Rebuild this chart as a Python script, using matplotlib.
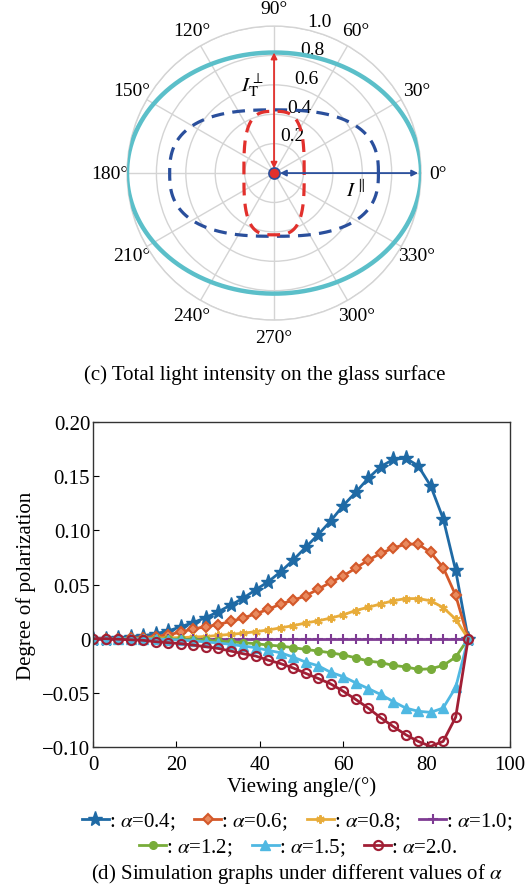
import numpy as np
import matplotlib
matplotlib.use("Agg")
import matplotlib.pyplot as plt

plt.rcParams["font.family"] = ["Liberation Serif", "DejaVu Serif"]
plt.rcParams["mathtext.fontset"] = "stix"

# ---- polar panel (c): curve extents ----
# (horizontal half-axis, vertical half-axis, squareness exponent)
total_shape = (1.0, 0.82, 2.0)
par_shape = (0.71, 0.43, 2.6)
perp_shape = (0.205, 0.42, 3.2)
r_ticks = [0.2, 0.4, 0.6, 0.8, 1.0]
theta_ticks = [0, 30, 60, 90, 120, 150, 180, 210, 240, 270, 300, 330]

# ---- panel (d): degree of polarization vs viewing angle ----
angle = [0, 3, 6, 9, 12, 15, 18, 21, 24, 27, 30, 33, 36, 39, 42, 45,
         48, 51, 54, 57, 60, 63, 66, 69, 72, 75, 78, 81, 84, 87, 90]
dop_04 = [0, 0, 0.0006, 0.0015, 0.0025, 0.0046, 0.007, 0.011, 0.0148, 0.0194,
          0.0247, 0.031, 0.0373, 0.0451, 0.0525, 0.0617, 0.0725, 0.0843, 0.096,
          0.1086, 0.1228, 0.135, 0.148, 0.1588, 0.1654, 0.1667, 0.1596, 0.141,
          0.1108, 0.063, 0]
dop_06 = [0, 0, 0, 0.0005, 0.001, 0.002, 0.0035, 0.006, 0.009, 0.011, 0.013,
          0.016, 0.019, 0.023, 0.027, 0.032, 0.0355, 0.0395, 0.0457, 0.052,
          0.058, 0.065, 0.0725, 0.0787, 0.0836, 0.0873, 0.0873, 0.0796, 0.0657,
          0.040, 0]
dop_08 = [0, 0, 0, 0, 0.0003, 0.0005, 0.0008, 0.001, 0.0015, 0.002, 0.003,
          0.004, 0.005, 0.0065, 0.008, 0.010, 0.012, 0.0145, 0.0165, 0.019,
          0.022, 0.026, 0.029, 0.032, 0.035, 0.037, 0.037, 0.035, 0.0287,
          0.018, 0]
dop_10 = [0] * 31
dop_12 = [0, 0, 0, 0, -0.0002, -0.0003, -0.0004, -0.0006, -0.001, -0.0016,
          -0.0022, -0.003, -0.0037, -0.0046, -0.0059, -0.0068, -0.0083,
          -0.0099, -0.0114, -0.013, -0.015, -0.0176, -0.0207, -0.022, -0.0247,
          -0.026, -0.0284, -0.0278, -0.0247, -0.017, 0]
dop_15 = [0, 0, 0, -0.0001, -0.0002, -0.0004, -0.0008, -0.0013, -0.002,
          -0.003, -0.004, -0.0052, -0.0068, -0.0083, -0.0108, -0.013, -0.017,
          -0.0216, -0.025, -0.031, -0.035, -0.0407, -0.046, -0.0515, -0.058,
          -0.064, -0.067, -0.068, -0.064, -0.045, 0]
dop_20 = [0, 0, -0.0005, -0.001, -0.0015, -0.0028, -0.0037, -0.0046, -0.0059,
          -0.0074, -0.009, -0.0114, -0.0139, -0.016, -0.0198, -0.023, -0.027,
          -0.032, -0.0367, -0.0417, -0.0485, -0.056, -0.064, -0.073, -0.081,
          -0.0886, -0.0948, -0.0994, -0.0948, -0.0725, 0]
alpha_labels = ["0.4", "0.6", "0.8", "1.0", "1.2", "1.5", "2.0."]

fig = plt.figure(figsize=(5.27, 8.87), dpi=100)

# ---------------- polar panel ----------------
pax = fig.add_axes([0.241, 0.638, 0.558, 0.3315], projection="polar")
grid_c = "#d4d4d4"


def superellipse(a, b, n, num=720):
    t = np.linspace(0, 2 * np.pi, num)
    c, s = np.cos(t), np.sin(t)
    x = a * np.sign(c) * np.abs(c) ** (2.0 / n)
    y = b * np.sign(s) * np.abs(s) ** (2.0 / n)
    return np.arctan2(y, x), np.hypot(x, y)


th, rr = superellipse(*total_shape)
pax.plot(th, rr, color="#5bbfc9", lw=3.2, zorder=4)
th, rr = superellipse(*par_shape)
pax.plot(th, rr, color="#2a4f9c", lw=2.3, ls=(0, (4, 2.6)), zorder=4)
th, rr = superellipse(*perp_shape)
pax.plot(th, rr, color="#e2302c", lw=2.3, ls=(0, (4, 2.6)), zorder=4)

pax.annotate("", xy=(np.pi / 2, total_shape[1]), xytext=(np.pi / 2, 0.03),
             arrowprops=dict(arrowstyle="<|-|>", color="#e2302c", lw=1.3,
                             mutation_scale=9, shrinkA=0, shrinkB=0), zorder=5)
pax.annotate("", xy=(0, 0.98), xytext=(0, 0.04),
             arrowprops=dict(arrowstyle="<|-|>", color="#2a4f9c", lw=1.3,
                             mutation_scale=9, shrinkA=0, shrinkB=0), zorder=5)
pax.plot([0], [0], "o", color="#e2302c", mec="#2a4f9c", mew=1.2, ms=8, zorder=6)

pax.text(np.deg2rad(104), 0.62, r"$I_{\mathrm{T}}^{\perp}$", fontsize=15,
         ha="center", va="center")
pax.text(np.deg2rad(-12), 0.57, r"$I^{\parallel}$", fontsize=15,
         ha="center", va="center")

pax.set_ylim(0, 1.0)
pax.set_yticks(r_ticks)
pax.set_yticklabels([f"{v:.1f}" for v in r_ticks], fontsize=14)
pax.set_rlabel_position(77)
pax.set_xticks(np.deg2rad(theta_ticks))
pax.set_xticklabels([f"{t}°" for t in theta_ticks], fontsize=14)
pax.tick_params(axis="x", pad=2)
pax.grid(True, color=grid_c, lw=1.0)
pax.spines["polar"].set_color(grid_c)
pax.spines["polar"].set_linewidth(1.0)

fig.text(0.502, 0.577, "(c) Total light intensity on the glass surface",
         ha="center", va="center", fontsize=15)

# ---------------- line panel ----------------
ax = fig.add_axes([0.1765, 0.1567, 0.791, 0.3664])

series = [
    (dop_04, "#1f6aa5", dict(marker="*", ms=11, mfc="#1f6aa5")),
    (dop_06, "#d4592a", dict(marker="D", ms=5.5, mfc="#e98a5e", mew=1.5)),
    (dop_08, "#e8ac3a", dict(marker=(6, 2, 0), ms=6, mew=1.5)),
    (dop_10, "#7e3b93", dict(marker="+", ms=7, mew=1.5)),
    (dop_12, "#78ac3a", dict(marker="o", ms=5.5, mfc="#78ac3a")),
    (dop_15, "#4fb8e2", dict(marker="^", ms=7.5, mfc="#4fb8e2")),
    (dop_20, "#a11f35", dict(marker="o", ms=6.5, mfc="none", mew=1.6)),
]
handles = []
for vals, col, mk in series:
    ln, = ax.plot(angle, vals, color=col, lw=2.0, mec=col, **mk)
    handles.append(ln)

ax.set_xlim(0, 100)
ax.set_ylim(-0.10, 0.20)
ax.set_xticks([0, 20, 40, 60, 80, 100])
ax.set_yticks([-0.10, -0.05, 0, 0.05, 0.10, 0.15, 0.20])
ax.set_yticklabels(["−0.10", "−0.05", "0", "0.05", "0.10", "0.15", "0.20"])
ax.tick_params(direction="in", labelsize=15, length=4, pad=2,
               top=False, right=False)
ax.tick_params(axis="x", pad=6)
for sp in ax.spines.values():
    sp.set_color("#333333")
    sp.set_linewidth(1.0)
ax.set_xlabel("Viewing angle/(°)", fontsize=15, labelpad=1)
ax.set_ylabel("Degree of polarization", fontsize=15, labelpad=4)

leg_kw = dict(frameon=False, fontsize=15, handlelength=1.3, handletextpad=0.0,
              columnspacing=0.9, borderpad=0, borderaxespad=0)
lab_txt = [rf": $\alpha$=" + a + ("" if a.endswith(".") else ";")
           for a in alpha_labels]
fig.legend(handles[:4], lab_txt[:4], ncol=4, loc="center",
           bbox_to_anchor=(0.564, 0.0725), **leg_kw)
fig.legend(handles[4:], lab_txt[4:], ncol=3, loc="center",
           bbox_to_anchor=(0.566, 0.0435), **leg_kw)

fig.text(0.564, 0.0145, r"(d) Simulation graphs under different values of $\alpha$",
         ha="center", va="center", fontsize=15)

fig.savefig("out.png", dpi=100)
